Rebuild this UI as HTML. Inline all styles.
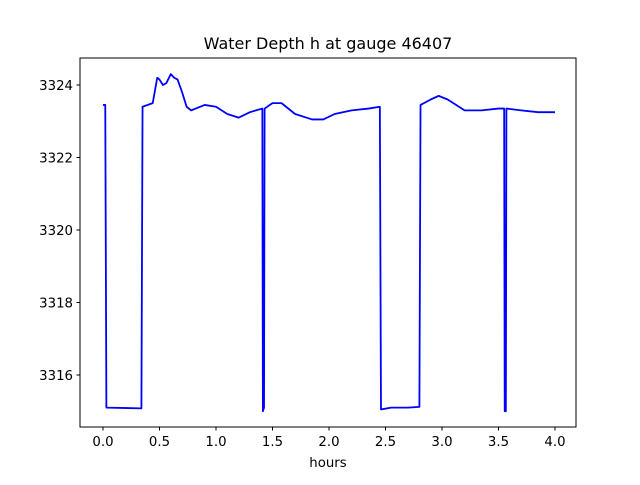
<!DOCTYPE html>
<html><head><meta charset="utf-8"><style>
body{margin:0;background:#fff;}
svg text{font-family:"DejaVu Sans","Liberation Sans",sans-serif;fill:#000;}
</style></head><body>
<svg width="640" height="480" xmlns="http://www.w3.org/2000/svg">
<rect x="0" y="0" width="640" height="480" fill="#fff"/>
<text x="328" y="49" font-size="16" text-anchor="middle">Water Depth h at gauge 46407</text>
<g id="ticks"></g>
<path id="line" fill="none" stroke="#0000ff" stroke-width="1.8" stroke-linejoin="round"/>
<rect x="80" y="58" width="496" height="369" fill="none" stroke="#000" stroke-width="1"/>
<text x="328" y="467" font-size="13.3" text-anchor="middle">hours</text>
</svg>
<script>
const hours=[0,0.02,0.03,0.34,0.35,0.44,0.48,0.5,0.53,0.56,0.6,0.63,0.66,0.7,0.74,0.78,0.82,0.9,1.0,1.1,1.2,1.3,1.41,1.415,1.425,1.43,1.5,1.58,1.7,1.85,1.95,2.05,2.2,2.35,2.45,2.46,2.55,2.7,2.8,2.81,2.9,2.97,3.05,3.2,3.35,3.5,3.55,3.555,3.565,3.57,3.7,3.85,4.0];
const depth=[3323.45,3323.45,3315.1,3315.08,3323.4,3323.5,3324.2,3324.15,3324.0,3324.05,3324.3,3324.2,3324.15,3323.8,3323.4,3323.3,3323.35,3323.45,3323.4,3323.2,3323.1,3323.25,3323.35,3315.0,3315.1,3323.35,3323.5,3323.5,3323.2,3323.05,3323.05,3323.2,3323.3,3323.35,3323.4,3315.05,3315.1,3315.1,3315.12,3323.45,3323.6,3323.7,3323.6,3323.3,3323.3,3323.35,3323.35,3315.0,3315.0,3323.35,3323.3,3323.25,3323.25];
const xTicks=[0,0.5,1,1.5,2,2.5,3,3.5,4];
const yTicks=[3316,3318,3320,3322,3324];
const sx=v=>103+v*113;
const sy=v=>85+(3324-v)*36.25;
const ns="http://www.w3.org/2000/svg";
const line=document.getElementById('line');
line.setAttribute('d',hours.map((h,i)=>(i?'L':'M')+sx(h).toFixed(2)+' '+sy(depth[i]).toFixed(2)).join(''));
const g=document.getElementById('ticks');
xTicks.forEach(t=>{
 const l=document.createElementNS(ns,'line');
 l.setAttribute('x1',sx(t));l.setAttribute('x2',sx(t));l.setAttribute('y1',427);l.setAttribute('y2',430.5);l.setAttribute('stroke','#000');
 
 
 g.appendChild(l);
 const tx=document.createElementNS(ns,'text');
 tx.setAttribute('x',sx(t));tx.setAttribute('y',446);tx.setAttribute('font-size','13.3');tx.setAttribute('text-anchor','middle');
 tx.textContent=t.toFixed(1);
 
 
 g.appendChild(tx);
});
yTicks.forEach(t=>{
 const l=document.createElementNS(ns,'line');
 l.setAttribute('x1',76.5);l.setAttribute('x2',80);l.setAttribute('y1',sy(t));l.setAttribute('y2',sy(t));l.setAttribute('stroke','#000');
 
 
 g.appendChild(l);
 const tx=document.createElementNS(ns,'text');
 tx.setAttribute('x',73);tx.setAttribute('y',sy(t)+5);tx.setAttribute('font-size','13.3');tx.setAttribute('text-anchor','end');
 tx.textContent=t;
 
 
 g.appendChild(tx);
});
</script>
</body></html>
